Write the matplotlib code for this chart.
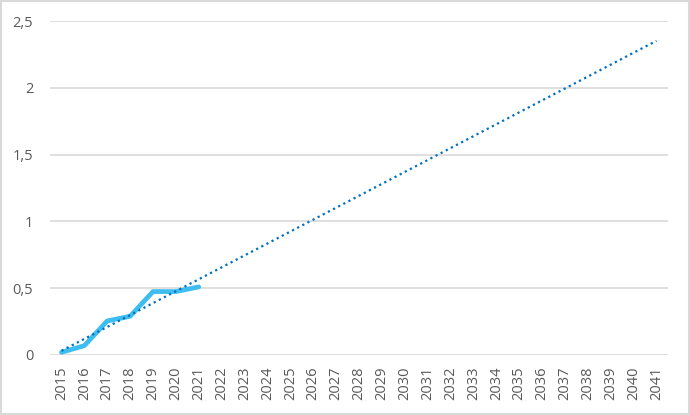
import matplotlib.pyplot as plt
import numpy as np
from matplotlib.patches import Rectangle

years = list(range(2015, 2042))
actual_years = [2015, 2016, 2017, 2018, 2019, 2020, 2021]
actual_values = [0.02, 0.07, 0.255, 0.29, 0.475, 0.475, 0.51]
y_ticks = [0, 0.5, 1, 1.5, 2, 2.5]
y_labels = ['0', '0,5', '1', '1,5', '2', '2,5']

plt.rcParams['font.family'] = ['Open Sans', 'DejaVu Sans']

fig = plt.figure(figsize=(6.9, 4.15), dpi=100)
ax = fig.add_axes([0.0725, 0.1446, 0.8955, 0.8044])

# positions are category indices, like excel
xa = np.arange(len(actual_years))
xall = np.arange(len(years))

# linear trend line over the whole range
k, b = np.polyfit(xa, actual_values, 1)
ax.plot(xall, k * xall + b, color='#0070C0', lw=1.6, linestyle=(0, (1, 1.6)), zorder=3)
ax.plot(xa, actual_values, color='#3DBDF0', lw=3.4, solid_capstyle='round', zorder=2)

ax.set_xlim(-0.5, len(years) - 0.5)
ax.set_ylim(0, 2.5)
ax.set_xticks(xall)
ax.set_xticklabels([str(y) for y in years], rotation=90)
ax.set_yticks(y_ticks)
ax.set_yticklabels(y_labels)
ax.tick_params(axis='both', length=0, labelsize=10, labelcolor='#595959')
ax.tick_params(axis='x', pad=8, labelsize=10.5)
ax.tick_params(axis='y', pad=12, labelsize=10.5)
ax.grid(axis='y', color='#D9D9D9', lw=1.2)
ax.set_axisbelow(True)
for s in ax.spines.values():
    s.set_visible(False)

fig.patches.append(Rectangle((0.001, 0.002), 0.997, 0.996, transform=fig.transFigure,
                             fill=False, edgecolor='#D9D9D9', lw=1.5))

fig.savefig('out.png', dpi=100)
